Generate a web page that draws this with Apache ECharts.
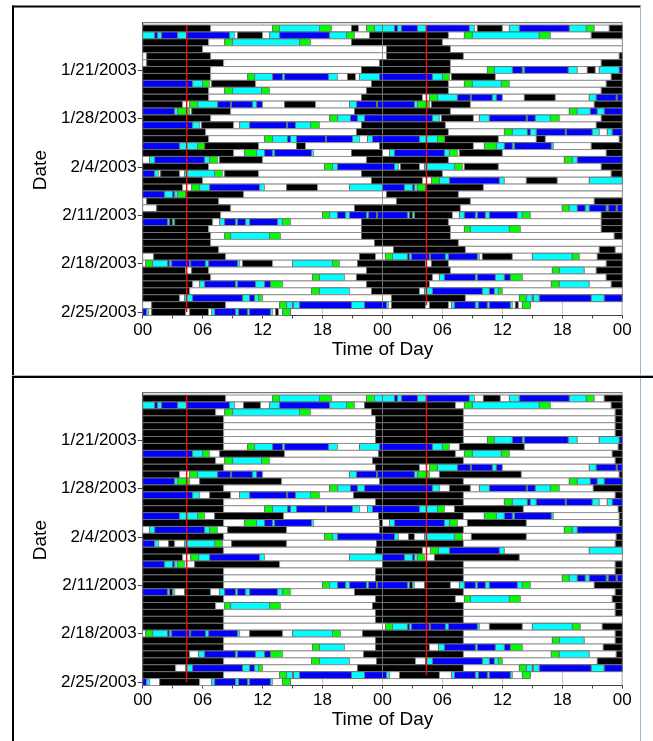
<!DOCTYPE html>
<html>
<head>
<meta charset="utf-8">
<title>Actogram</title>
<script src="https://cdn.jsdelivr.net/npm/echarts@6.0.0/dist/echarts.min.js"></script>
<style>
  html, body { margin: 0; padding: 0; background: #fff; }
  #main { width: 653px; height: 741px; }
</style>
</head>
<body>
<div id="main"></div>
<script>
// y axis: day number counted from 1/14/2003, ticks every week
var dateTicks = [7, 14, 21, 28, 35, 42];
var dateLabels = ['1/21/2003', '1/28/2003', '2/4/2003', '2/11/2003', '2/18/2003', '2/25/2003'];
var hourLabels = ['00', '06', '12', '18', '00', '06', '12', '18', '00'];

// state codes used in the day strings (n = no data)
var states = ['k', 'w', 'b', 'c', 'g'];
var stateColors = ['#000000', '#ffffff', '#0000ff', '#00ffff', '#00ff00'];

// red marker line (hour of day) and the days it covers
var markerHour = 4.4;
var firstDay = 1;   // 1/15/2003
var lastDay = 42;   // 2/25/2003

// each string: state + hour where it starts, runs until next entry (or 24)
var topDays = [
  'k0 w6.8 g13 c13.7 g17.7 w18.9 k20.9 w21.6 g22.4 c23.2',
  'c0 b1.2 c1.5 b1.9 c3.5 b4.4 c8.7 w9.2 k9.5 w12 c12.7 b13.7 c18.7 g20.4 w21.2 k22.7',
  'k0 w6.6 g8.2 c9 g15.7 w16.8 k20.9',
  'k0 w6',
  'w0 k0.4 w6.8',
  'w0 k0.4 w8.1 k23.7',
  'k0 w6.8 k21.9',
  'k0 w6.8 g10.5 c11.2 b13 c14 b14.2 c18.6 w19.5 k20.5 w21.3 c21.7 b23.7',
  'b0 c5 g6 w6.7 k6.9 w11.3 k22.9',
  'k0 w6.6 g8.2 c9 g11.9 w12.7 k22.4',
  'k0 w6.6 k21.9',
  'k0 w4 g4.7 c5.5 b7.5 c8.8 b8.9 c11 b11.4 w12 k14.2 w17.3 c20.7 b21.4 c23.4 b23.5',
  'b0 c3.2 g3.5 w4.7 k4.9 w8.8 k21.2',
  'k0 w6.8 g18.7 c19.5 b20.8 c21.5 b22.2',
  'b0 c5 w5.7 k5.9 w9.1 c9.7 b10.7 c14.4 b14.5 c15.3 g16.8 w17.7 k21.9',
  'k0 w6.3 k21.4',
  'k0 w6.6 g12.2 c13 b14.5 c14.8 b15.4 c18.3 b18.4 c21 w21.7 c22.5 b23',
  'b0 c3.7 g5.5 k6.2 w11.6 k15.4 w16.3 k23.7',
  'k0 w9.1 g10.2 c11.4 b12.2 c13 b13.2 c16.9 w17.1 k20.9',
  'w0 c0.7 b1.2 c6.2 g6.7 w7.5 k7.7 w12 k22.4',
  'k0 w6.6 g18.2 c19 b19.5',
  'b0 c1.2 w1.6 k1.8 w3.7 c4.2 g7.2 w8 k8.2 w11.6 k21.9',
  'k0 w6 k22.9',
  'k0 w4 g4.9 c5.7 b6.7 c11.7 w12.2 k14.4 w17.5 c20.7',
  'b0 c2.2 b3 c3.2 g3.5 k4.3 w10.1',
  'w0 k0.4 w7.6',
  'w0 k1.4 w8.8 k21.2',
  'k0 w7.8 g18 c18.7 b19.5 c20.3 b20.7 c22.4 b22.6 c23.4 b23.5',
  'b0 c2.5 k2.7 c3 k3.2 w7 c7.7 b8.2 c9.3 b9.5 c10.3 b10.7 c13.5 g14 w14.8 k21.9',
  'k0 w6.6 k21.9',
  'k0 w6.8 g8.2 c8.8 g12.7 w13.8 k21.9',
  'k0 w6.8 k23.2',
  'k0 w7.6',
  'w0 k1.1 w8.3 k21.7 w23.3',
  'w0 g0.3 c1 b2.5 c2.7 b2.9 c4.7 b4.8 c6.3 b6.6 c9.5 w9.7 k10 w13 c15 g19 w19.7 k21.5',
  'k0 w4.3 k4.9 w6.6 k22.4',
  'k0 w6.8 g17 c17.7 w20.2 k21.4',
  'k0 w5 c5.7 b6.2 c9.3 b9.5 c11.3 b12.2 g12.8 w14 k22.4',
  'k0 w4.7 g16.9 c17.7 w20.7 k22.9',
  'k0 w3.7 c4.2 b5 c10 b10.7 c11.2 g11.6 w12',
  'w0 k0.9 w8.3 g13.7 c14.4 b15 c15.1 b15.7 c20.9 b22.2',
  'b0 c0.4 w0.6 k0.9 w4.3 k4.7 w6.6 c6.9 b7.2 c9.3 b9.6 c10.5 b10.7 c12.8 w13 k13.3 w13.6 g14 n14.8'
];

var bottomDays = [
  'k0 w8.3 g13 c13.7 g17.7 w18.9 g22.4 c23.2',
  'c0 b1.2 c1.5 b1.9 c3.5 b4.4 c8.7 w9.2 k10.1 w11.8 c12.7 b13.7 c18.7 g20.4 w21.2 k22.2',
  'k0 w7.3 g8.2 c9 g15.7 w16.8 k22.9',
  'k0 w8.1 k23.3',
  'k0 w8.1 k23.3',
  'k0 w8.1 k23.3',
  'k0 w8.1 k23.3',
  'k0 w8.1 g10.5 c11.2 b13 c14 b14.2 c18.6 w19.5 c21.7 b23.7',
  'b0 c5 g6 w6.7 k7.7 w14.2 k23.6',
  'k0 w7.3 g8.2 c9 g11.9 w12.7 k23',
  'k0 w8.1 k23.3',
  'k0 w3.7 g4.7 c5.5 b7.5 c8.8 b8.9 c11 b11.4 w12 c20.7 b21.4 c23.4 b23.5',
  'b0 c3.2 g3.5 w4.7 k5.7 w13.9 k23.7',
  'k0 w8.1 g18.7 c19.5 b20.8 c21.5 b22.2',
  'b0 c5 w5.7 k6.7 w8.8 c9.7 b10.7 c14.4 b14.5 c15.3 g16.8 w17.7 k21.1',
  'k0 w8.1 k23.3',
  'k0 w8.1 g12.2 c13 b14.5 c14.8 b15.4 c18.3 b18.4 c21 w21.7 c22.5 b23',
  'b0 c3.7 g5.5 w6.2 k7.2 w14.1 k23.6',
  'k0 w8.1 g10.2 c11.4 b12.2 c13 b13.2 c16.9 w17.1 k23.7',
  'w0 c0.7 b1.2 c6.2 g6.7 w7.5 k8.5 w14.4 k23.7',
  'k0 w8.1 g18.2 c19 b19.5',
  'b0 c1.2 w1.6 k2.6 w3.2 c4.2 g7.2 w8 k8.9 w14.4 k23.4',
  'k0 w8.1 k23.3',
  'k0 w4 g4.8 c5.6 b6.7 c11.7 w12.2 c20.7',
  'b0 c2.2 b3 c3.2 g3.5 w4.2 k5.2 w13.7',
  'k0 w8.1 k23.3',
  'k0 w8.1 k23.3',
  'k0 w8.1 g18 c18.7 b19.5 c20.3 b20.7 c22.4 b22.6 c23.4 b23.5',
  'b0 c2.5 k2.7 c3 w3.2 k4.2 w6.8 c7.7 b8.2 c9.3 b9.5 c10.3 b10.7 c13.5 g14 w14.8 k21.2',
  'k0 w8.1 k23.3',
  'k0 w7.3 g8.2 c8.8 g12.7 w13.8 k23',
  'k0 w8.1 k23.3',
  'k0 w8.1 k23.3',
  'k0 w8.1',
  'w0 g0.3 c1 b2.5 c2.7 b2.9 c4.7 b4.8 c6.3 b6.6 c9.5 w9.7 k10.7 w14 c15 g19 w19.8 k22',
  'k0 w8.1 k23.3',
  'k0 w8.1 g17 c17.7 w20.2 k23.3',
  'k0 w4.7 c5.6 b6.2 c9.3 b9.5 c11.3 b12.2 g12.8 w14 k22.1',
  'k0 w8.1 g16.9 c17.7 w20.7 k23.4',
  'k0 w3.3 c4.3 b5 c10 b10.7 c11.2 g11.6 w12 k21.5',
  'k0 w8.1 g13.7 c14.4 b15 c15.1 b15.7 c20.9 b22.2',
  'b0 c0.4 w0.7 k1.7 w5.7 c6.9 b7.2 c9.3 b9.6 c10.5 b10.7 c12.8 w13 g14 n14.8'
];

var FONT = '"Liberation Sans", Arial, sans-serif';

// double plot: day d on the left of row d and on the right of row d-1
function buildSegments(days) {
  var out = [];
  days.forEach(function(str, i) {
    var day = firstDay + i;
    var tok = str.split(' ');
    for (var j = 0; j < tok.length; j++) {
      var st = tok[j].charAt(0);
      var s = parseFloat(tok[j].slice(1));
      var e = j + 1 < tok.length ? parseFloat(tok[j + 1].slice(1)) : 24;
      if (st === 'n' || e <= s) continue;
      var idx = states.indexOf(st);
      out.push([s, e, day, idx]);
      if (day - 1 >= firstDay) out.push([s + 24, e + 24, day - 1, idx]);
    }
  });
  return out;
}

function renderItem(params, api) {
  var a = api.coord([api.value(0), api.value(2) - 0.5]);
  var b = api.coord([api.value(1), api.value(2) + 0.5]);
  var cs = params.coordSys;
  var shape = echarts.graphic.clipRectByRect(
    { x: a[0], y: Math.min(a[1], b[1]), width: b[0] - a[0], height: Math.abs(b[1] - a[1]) },
    { x: cs.x, y: cs.y, width: cs.width, height: cs.height });
  if (!shape) return;
  var c = api.value(3);
  return {
    type: 'rect',
    shape: shape,
    style: { fill: stateColors[c], stroke: c === 1 ? '#909090' : '#707070', lineWidth: 1 }
  };
}

function xAxisFor(gi) {
  return {
    type: 'value', gridIndex: gi, min: 0, max: 48, interval: 6,
    name: 'Time of Day', nameLocation: 'middle', nameGap: 25,
    nameTextStyle: { fontSize: 19, color: '#000', fontFamily: FONT },
    axisLine: { lineStyle: { color: '#444', width: 1 } },
    axisTick: { show: true, length: 3, lineStyle: { color: '#444' } },
    minorTick: { show: true, splitNumber: 2, length: 3, lineStyle: { color: '#444' } },
    splitLine: { show: true, lineStyle: { color: '#c8c8c8', width: 1 } },
    axisLabel: {
      fontSize: 17, color: '#000', fontFamily: FONT, margin: 6,
      formatter: function(v) { return hourLabels[Math.round(v / 6)]; }
    }
  };
}

function yAxisFor(gi) {
  return {
    type: 'value', gridIndex: gi, inverse: true, min: 0.16, max: 42.5,
    name: 'Date', nameLocation: 'middle', nameGap: 90, nameRotate: 90,
    nameTextStyle: { fontSize: 19, color: '#000', fontFamily: FONT, padding: [0, 2, 0, 0] },
    axisLine: { show: true, lineStyle: { color: '#444' } },
    axisTick: { show: true, length: 5, customValues: dateTicks, lineStyle: { color: '#444' } },
    axisLabel: {
      customValues: dateTicks, fontSize: 17, color: '#000', fontFamily: FONT, margin: 6,
      formatter: function(v) { return dateLabels[dateTicks.indexOf(v)]; }
    },
    splitLine: { show: false }
  };
}

function panelSeries(gi, days) {
  return [
    {
      type: 'custom', xAxisIndex: gi, yAxisIndex: gi,
      renderItem: renderItem, encode: { x: [0, 1], y: 2 },
      data: buildSegments(days), silent: true, animation: false
    },
    {
      type: 'line', xAxisIndex: gi, yAxisIndex: gi, symbol: 'none', silent: true, z: 5,
      lineStyle: { color: '#e01010', width: 1.5 }, animation: false,
      data: [[markerHour, firstDay - 0.5], [markerHour, lastDay]]
    },
    {
      type: 'line', xAxisIndex: gi, yAxisIndex: gi, symbol: 'none', silent: true, z: 5,
      lineStyle: { color: '#e01010', width: 1.5 }, animation: false,
      data: [[markerHour + 24, firstDay - 0.5], [markerHour + 24, lastDay - 1]]
    }
  ];
}

var chart = echarts.init(document.getElementById('main'), null, { renderer: 'canvas' });

chart.setOption({
  backgroundColor: '#ffffff',
  animation: false,
  grid: [
    { left: 142.7, top: 22.7, width: 479.6, height: 292.8, show: true, borderColor: '#555', borderWidth: 1 },
    { left: 142.7, top: 392.7, width: 479.6, height: 292.8, show: true, borderColor: '#555', borderWidth: 1 }
  ],
  xAxis: [xAxisFor(0), xAxisFor(1)],
  yAxis: [yAxisFor(0), yAxisFor(1)],
  series: panelSeries(0, topDays).concat(panelSeries(1, bottomDays)),
  graphic: [
    { type: 'line', shape: { x1: 12, y1: 6.5, x2: 641, y2: 6.5 }, style: { stroke: '#000', lineWidth: 2 } },
    { type: 'line', shape: { x1: 13, y1: 5.5, x2: 13, y2: 741 }, style: { stroke: '#000', lineWidth: 2 } },
    { type: 'line', shape: { x1: 640.5, y1: 5.5, x2: 640.5, y2: 741 }, style: { stroke: '#9db4cc', lineWidth: 1 } },
    { type: 'line', shape: { x1: 12, y1: 375.5, x2: 653, y2: 375.5 }, style: { stroke: '#9db4cc', lineWidth: 1 } },
    { type: 'line', shape: { x1: 12, y1: 377, x2: 653, y2: 377 }, style: { stroke: '#000', lineWidth: 2 } }
  ]
});
</script>
</body>
</html>
